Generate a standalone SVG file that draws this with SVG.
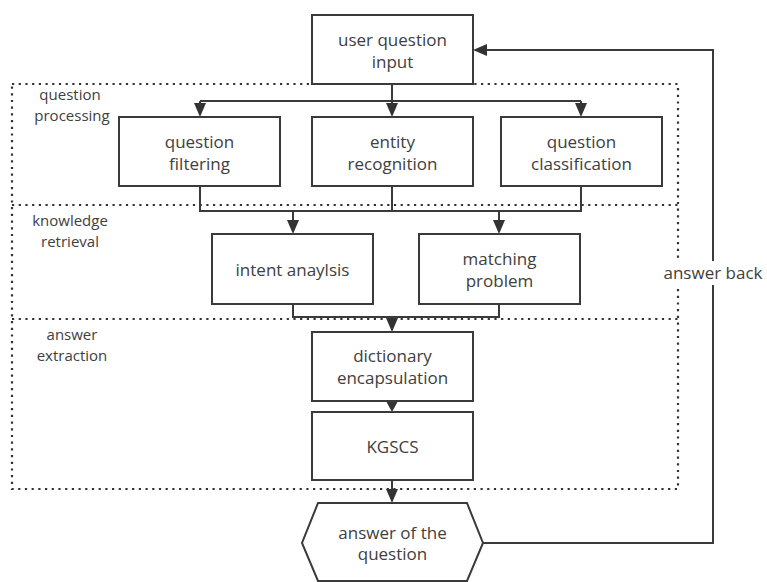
<svg xmlns="http://www.w3.org/2000/svg" width="767" height="582" viewBox="0 0 767 582">
<style>
.box{fill:#fff;stroke:#3a3a3a;stroke-width:2}
.t{font-family:"Open Sans","Noto Sans",sans-serif;font-size:17px;fill:#404040;text-anchor:middle;dominant-baseline:central}
.lbl{font-family:"Open Sans","Noto Sans",sans-serif;font-size:15px;fill:#404040;text-anchor:middle;dominant-baseline:central}
.ln{fill:none;stroke:#3a3a3a;stroke-width:2}
.dot{fill:none;stroke:#333;stroke-width:2.2;stroke-dasharray:2.2 4.5}
.ah{fill:#333}
</style>
<g id="regions">
<rect class="dot" x="12" y="84" width="666" height="405"/>
<line class="dot" x1="12" y1="205" x2="678" y2="205"/>
<line class="dot" x1="12" y1="319" x2="678" y2="319"/>
<text class="lbl" x="70" y="94">question</text>
<text class="lbl" x="72" y="115">processing</text>
<text class="lbl" x="70" y="220">knowledge</text>
<text class="lbl" x="70" y="241">retrieval</text>
<text class="lbl" x="72" y="334">answer</text>
<text class="lbl" x="72" y="355">extraction</text>
</g>
<g id="connectors">
<path class="ln" d="M392,84 V101"/>
<path class="ln" d="M200,101 H581"/>
<path class="ln" d="M200,101 V106 M392,101 V106 M581,101 V106"/>
<path class="ln" d="M200,186 V211 H581 V186 M392,186 V211"/>
<path class="ln" d="M293,304 V317 H499 V304"/>
<path class="ln" d="M483,543 H713 V50 H486"/>
<path class="ln" d="M293,211 V222"/>
<path class="ln" d="M499,211 V222"/>
<path class="ln" d="M392,480 V492"/>
<path class="ah" d="M194,103 L206,103 L200,117 Z"/>
<path class="ah" d="M386,103 L398,103 L392,117 Z"/>
<path class="ah" d="M575,103 L587,103 L581,117 Z"/>
<path class="ah" d="M287,220 L299,220 L293,234 Z"/>
<path class="ah" d="M493,220 L505,220 L499,234 Z"/>
<path class="ah" d="M386,318 L398,318 L392,332 Z"/>
<path class="ah" d="M386,401 L398,401 L392,412 Z"/>
<path class="ah" d="M386,489 L398,489 L392,503 Z"/>
<path class="ah" d="M473,50 L487,44 L487,56 Z"/>
</g>
<g id="n-input"><rect class="box" x="312" y="15" width="161" height="69"/><text class="t" x="392.5" y="39">user question</text><text class="t" x="392.5" y="61">input</text></g>
<g id="n-filter"><rect class="box" x="119" y="117" width="161" height="69"/><text class="t" x="199.5" y="141">question</text><text class="t" x="199.5" y="163">filtering</text></g>
<g id="n-entity"><rect class="box" x="312" y="117" width="161" height="69"/><text class="t" x="392.5" y="141">entity</text><text class="t" x="392.5" y="163">recognition</text></g>
<g id="n-class"><rect class="box" x="501" y="117" width="161" height="69"/><text class="t" x="581.5" y="141">question</text><text class="t" x="581.5" y="163">classification</text></g>
<g id="n-intent"><rect class="box" x="212" y="234" width="161" height="70"/><text class="t" x="292.5" y="269">intent anaylsis</text></g>
<g id="n-match"><rect class="box" x="419" y="234" width="161" height="70"/><text class="t" x="499.5" y="258">matching</text><text class="t" x="499.5" y="280">problem</text></g>
<g id="n-dict"><rect class="box" x="312" y="332" width="161" height="69"/><text class="t" x="392.5" y="355">dictionary</text><text class="t" x="392.5" y="377">encapsulation</text></g>
<g id="n-kgscs"><rect class="box" x="312" y="412" width="161" height="68"/><text class="t" x="392.5" y="446">KGSCS</text></g>
<g id="n-answer"><path class="box" d="M318,503 H467 L483,543 L467,581 H318 L302,543 Z"/><text class="t" x="392.5" y="532">answer of the</text><text class="t" x="392.5" y="553">question</text></g>
<g id="label-back"><rect x="659" y="261" width="108" height="24" fill="#fff"/><text class="t" x="713" y="272">answer back</text></g>
</svg>
